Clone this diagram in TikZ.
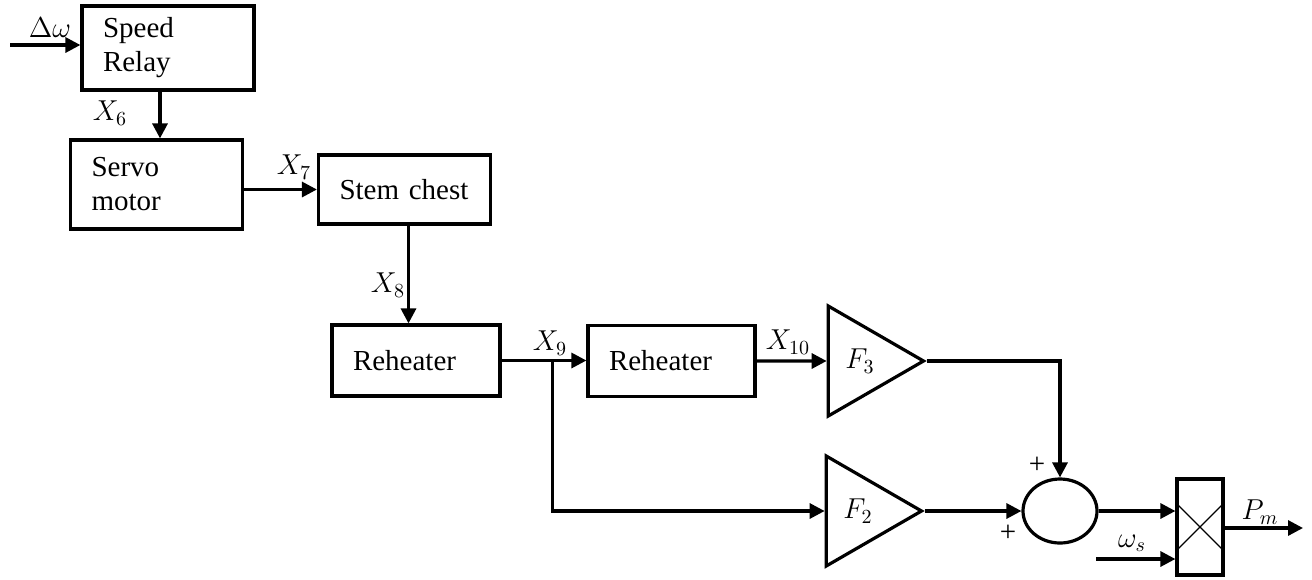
\documentclass[tikz,border=0pt]{standalone}
\usepackage{amsmath}
\usepackage{fontspec}
\setmainfont{Liberation Serif}
\usetikzlibrary{shapes,positioning,calc}
\usetikzlibrary{shapes.geometric, arrows}
\usetikzlibrary{arrows.meta}
\tikzstyle{blocco} = [rectangle, 
draw=black, line width=1.6pt, text width=65pt, inner xsep=10.5pt, align=left]
\tikzstyle{guadagno} = [regular polygon, regular polygon sides=3, regular polygon rotate=-90, 
minimum size=63.5pt, inner sep=0pt, draw=black, line width=1.6pt]
\tikzstyle{somma} = [ellipse, minimum width=37pt, minimum height=32pt, draw=black, line width=1.6pt]
\tikzstyle{prodotto} = [rectangle, minimum width=23pt, minimum height=48pt, inner sep=0pt, draw=black, line width=1.6pt]
\tikzstyle{freccia} = [line width=1.6pt,-{Triangle[length=7.5pt,width=7.5pt]}]

\begin{document}
\begin{tikzpicture}[x=0.5pt,y=-0.5pt,font=\fontsize{14.5}{17}\selectfont]
							\useasboundingbox (0,0) rectangle (1312,579);
							\node (sr) at (168,48) [blocco, minimum height=42pt] {Speed\\Relay};
							\node (sm) at (156.5,184.5) [blocco, minimum height=44.5pt] {Servo\\motor};
							\node (sc) at (404.5,189.5) [blocco, minimum height=34.5pt] {Stem chest};
							\node (rh1) at (416,360.5) [blocco, text width=63pt, minimum height=35.5pt] {Reheater};
							\node (rh2) at (671.5,361) [blocco, text width=62.5pt, minimum height=35.5pt] {Reheater};
							\node (f3) at (860,361) [guadagno] {$F_3$};
							\node (f2) at (858,511) [guadagno] {$F_2$};
							\node (sum) at (1060,511) [somma] {};
							\node (mul) at (1200,527) [prodotto] {};
							\draw[line width=0.6pt] ($(mul.center)+(-22,-22)$) -- ($(mul.center)+(22,22)$);
							\draw[line width=0.6pt] ($(mul.center)+(-22,22)$) -- ($(mul.center)+(22,-22)$);
							% ingressi e uscita
							\coordinate (ingr) at (10,45);
							\coordinate (ws) at (1096,559);
							\coordinate (pm) at (1303,528);
							\coordinate (br) at ($(rh1.east)!0.6!(rh2.west)$);
							\draw[freccia] (ingr) -- (ingr -| sr.west);
							\draw[freccia] ([xshift=-4pt]sr.south) -- ([xshift=-4pt]sr.south |- sm.north);
							\draw[freccia] (sc.west -| sm.east) -- (sc.west);
							\draw[freccia] ([xshift=2pt]sc.south) -- ([xshift=2pt]sc.south |- rh1.north);
							\draw[freccia] (rh1.east) -- (rh1.east -| rh2.west);
							\draw[freccia] (rh2.east) -- (f3.west);
							\draw[freccia] (br) |- (f2.west);
							\draw[freccia] (f3.corner 1) -| (sum.north);
							\draw[freccia] (f2.corner 1) -- (sum.west);
							\draw[freccia] (sum.east) -- (sum.east -| mul.west);
							\draw[freccia] (ws) -- (ws -| mul.west);
							\draw[freccia] (mul.east |- pm) -- (pm);
							% etichette
							\node (ldw) at (50,28) {$\Delta\omega$};
							\node (lx6) at (110,113) {$X_6$};
							\node (lx7) at (294,167) {$X_7$};
							\node (lx8) at (388,285) {$X_8$};
							\node (lx9) at (550,343) {$X_9$};
							\node (lx10) at (788,342) {$X_{10}$};
							\node (lp1) at (1037,465) {+};
							\node (lp2) at (1008,533) {+};
							\node (lws) at (1132,543) {$\omega_s$};
							\node (lpm) at (1260,512) {$P_m$};
						\end{tikzpicture}
\end{document}
